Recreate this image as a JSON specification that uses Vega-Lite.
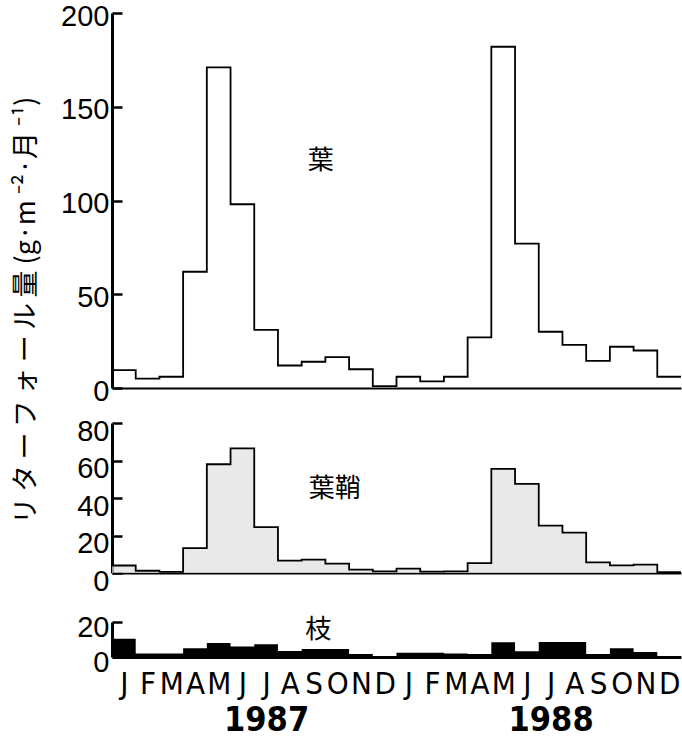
{
  "$schema": "https://vega.github.io/schema/vega-lite/v6.json",
  "padding": {"left": 12, "top": 2, "right": 0, "bottom": 0},
  "bounds": "flush",
  "spacing": 35,
  "config": {
    "view": {"stroke": null},
    "font": "Liberation Sans",
    "axis": {"grid": false, "domainColor": "black", "tickColor": "black", "labelColor": "black", "titleColor": "black"},
    "axisY": {"domainWidth": 3, "tickSize": -10, "tickWidth": 2.5, "labelFont": "Liberation Sans", "labelFontSize": 29, "labelPadding": 13, "labelOverlap": false, "labelSeparation": 0, "title": null}
  },
  "datasets": {
    "litter": [
      {"m": 0, "leaf": 9.5, "sheath": 4, "branch": 10.5},
      {"m": 1, "leaf": 5, "sheath": 1.2, "branch": 2},
      {"m": 2, "leaf": 6, "sheath": 0.6, "branch": 2},
      {"m": 3, "leaf": 62, "sheath": 13.3, "branch": 5},
      {"m": 4, "leaf": 171, "sheath": 58, "branch": 8},
      {"m": 5, "leaf": 98, "sheath": 66.5, "branch": 6},
      {"m": 6, "leaf": 31, "sheath": 24.5, "branch": 7.3},
      {"m": 7, "leaf": 12, "sheath": 6.6, "branch": 3.4},
      {"m": 8, "leaf": 14, "sheath": 7.1, "branch": 4.6},
      {"m": 9, "leaf": 16.5, "sheath": 5, "branch": 4.6},
      {"m": 10, "leaf": 10, "sheath": 1.8, "branch": 1.7},
      {"m": 11, "leaf": 1, "sheath": 0.9, "branch": 0.5},
      {"m": 12, "leaf": 6, "sheath": 2.3, "branch": 2.5},
      {"m": 13, "leaf": 3.5, "sheath": 0.7, "branch": 2.5},
      {"m": 14, "leaf": 6, "sheath": 0.9, "branch": 2},
      {"m": 15, "leaf": 27, "sheath": 5.3, "branch": 1.7},
      {"m": 16, "leaf": 182, "sheath": 55.5, "branch": 8.5},
      {"m": 17, "leaf": 77, "sheath": 47.5, "branch": 3.3},
      {"m": 18, "leaf": 30, "sheath": 25.3, "branch": 8.6},
      {"m": 19, "leaf": 23, "sheath": 21.5, "branch": 8.6},
      {"m": 20, "leaf": 14.5, "sheath": 5.7, "branch": 1.7},
      {"m": 21, "leaf": 22, "sheath": 4.1, "branch": 5},
      {"m": 22, "leaf": 20, "sheath": 4.5, "branch": 2.8},
      {"m": 23, "leaf": 6, "sheath": 0.5, "branch": 0.5},
      {"m": 24, "leaf": 6, "sheath": 0.5, "branch": 0.5}
    ]
  },
  "vconcat": [
    {
      "width": 569,
      "height": 375,
      "layer": [
        {
          "data": {"name": "litter"},
          "mark": {"type": "line", "interpolate": "step-after", "color": "black", "strokeWidth": 1.8},
          "encoding": {
            "x": {"field": "m", "type": "quantitative", "scale": {"domain": [0, 24], "nice": false}, "axis": {"labels": false, "ticks": false, "title": null, "domainWidth": 2}},
            "y": {"field": "leaf", "type": "quantitative", "scale": {"domain": [0, 200]}, "axis": {"values": [0, 50, 100, 150, 200], "labelOffset": 3, "labelOverlap": false, "title": "リ\u2009タ\u2009ー\u2009フ\u2009ォ\u2009ー\u2009ル\u2009量 (g·m \u207b²·月 \u207b¹)", "titleFont": "Noto Sans CJK JP", "titleFontSize": 27, "titleFontWeight": "normal", "titleAngle": -90, "titleX": -86, "titleY": 297, "titleAlign": "center", "titleBaseline": "middle"}}
          }
        },
        {
          "data": {"values": [{}]},
          "mark": {"type": "text", "font": "Noto Sans CJK JP", "fontSize": 26, "color": "black"},
          "encoding": {"x": {"datum": 8.8}, "y": {"datum": 121}, "text": {"value": "葉"}}
        }
      ]
    },
    {
      "bounds": "flush",
      "spacing": 49,
      "vconcat": [
        {
          "width": 569,
          "height": 150,
          "layer": [
            {
              "data": {"name": "litter"},
              "mark": {"type": "area", "interpolate": "step-after", "color": "#e0e0e0", "line": {"color": "black", "strokeWidth": 1.8}},
              "encoding": {
                "x": {"field": "m", "type": "quantitative", "scale": {"domain": [0, 24], "nice": false}, "axis": {"labels": false, "ticks": false, "title": null, "domainWidth": 2}},
                "y": {"field": "sheath", "type": "quantitative", "scale": {"domain": [0, 80]}, "axis": {"values": [0, 20, 40, 60, 80], "labelOffset": 8, "labelOverlap": false, "labelSeparation": 0}}
              }
            },
            {
              "data": {"values": [{}]},
              "mark": {"type": "text", "font": "Noto Sans CJK JP", "fontSize": 26, "color": "black"},
              "encoding": {"x": {"datum": 9.4}, "y": {"datum": 45, "axis": {"values": [0, 20, 40, 60, 80], "labelOffset": 8, "labelOverlap": false, "labelSeparation": 0}}, "text": {"value": "葉鞘"}}
            }
          ]
        },
        {
          "width": 569,
          "height": 35,
          "resolve": {"axis": {"x": "independent"}},
          "layer": [
            {
              "data": {"name": "litter"},
              "mark": {"type": "area", "interpolate": "step-after", "color": "black"},
              "encoding": {
                "x": {"field": "m", "type": "quantitative", "scale": {"domain": [0, 24], "nice": false}, "axis": {"orient": "bottom", "values": [0.5, 1.5, 2.5, 3.5, 4.5, 5.5, 6.5, 7.5, 8.5, 9.5, 10.5, 11.5, 12.5, 13.5, 14.5, 15.5, 16.5, 17.5, 18.5, 19.5, 20.5, 21.5, 22.5, 23.5], "labelExpr": "['J','F','M','A','M','J','J','A','S','O','N','D'][floor(datum.value) % 12]", "ticks": false, "domainWidth": 3, "labelFont": "DejaVu Sans Condensed", "labelFontSize": 31, "labelPadding": 12, "labelOverlap": false, "title": null}},
                "y": {"field": "branch", "type": "quantitative", "scale": {"domain": [0, 20]}, "axis": {"values": [0, 20], "labelOffset": 5, "labelOverlap": false}}
              }
            },
            {
              "data": {"name": "litter"},
              "mark": {"type": "point", "opacity": 0},
              "encoding": {
                "x": {"field": "m", "type": "quantitative", "axis": {"orient": "bottom", "values": [6.5, 18.5], "labelExpr": "datum.value < 12 ? '1987' : '1988'", "ticks": false, "domain": false, "labelFont": "DejaVu Sans Condensed", "labelFontSize": 34, "labelFontWeight": "bold", "labelPadding": 46, "title": null}},
                "y": {"field": "branch", "type": "quantitative"}
              }
            },
            {
              "data": {"values": [{}]},
              "mark": {"type": "text", "font": "Noto Sans CJK JP", "fontSize": 26, "color": "black"},
              "encoding": {"x": {"datum": 8.7, "axis": null}, "y": {"datum": 15.5}, "text": {"value": "枝"}}
            }
          ]
        }
      ]
    }
  ]
}
